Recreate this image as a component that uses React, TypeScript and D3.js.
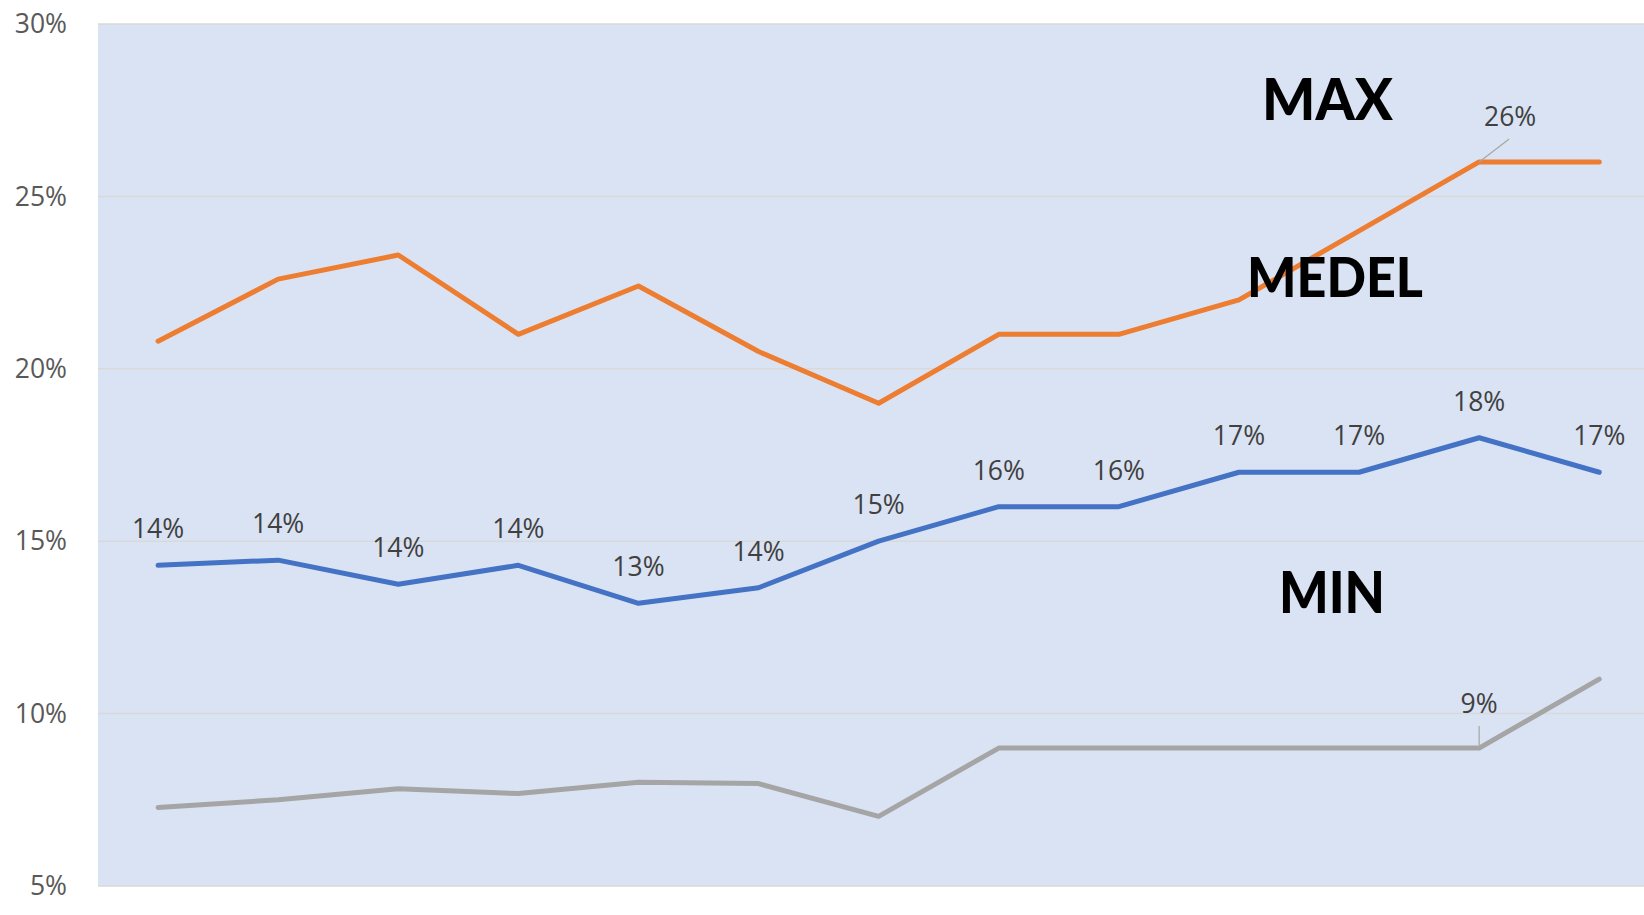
import React from 'react';
import * as d3 from 'd3';

// 13 periods, no visible category labels in the original
const categories = ['1', '2', '3', '4', '5', '6', '7', '8', '9', '10', '11', '12', '13'];
const maxValues = [20.8, 22.6, 23.3, 21.0, 22.4, 20.5, 19.0, 21.0, 21.0, 22.0, 24.0, 26.0, 26.0];
const medelValues = [14.3, 14.45, 13.75, 14.3, 13.2, 13.65, 15.0, 16.0, 16.0, 17.0, 17.0, 18.0, 17.0];
const minValues = [7.28, 7.5, 7.82, 7.68, 8.01, 7.97, 7.02, 9.0, 9.0, 9.0, 9.0, 9.0, 11.0];
const yTicks = [5, 10, 15, 20, 25, 30];

const W = 1644;
const H = 915;
const margin = { top: 24, left: 98, bottom: 29 };
const bandW = 120.1;

const App = () => {
  const x = d3.scaleBand()
    .domain(categories)
    .range([margin.left, margin.left + bandW * categories.length]);
  const cx = (i: number) => (x(categories[i]) as number) + x.bandwidth() / 2;

  const y = d3.scaleLinear()
    .domain([5, 30])
    .range([H - margin.bottom, margin.top]);

  const line = d3.line<number>()
    .x((_, i) => cx(i))
    .y(d => y(d));

  const fmt = (v: number) => `${Math.round(v)}%`;
  const labelFont = "'Open Sans', 'Liberation Sans', sans-serif";
  const bigFont = "Lato, 'DejaVu Sans', sans-serif";

  const series = [
    { name: 'max', values: maxValues, color: '#ed7d31' },
    { name: 'medel', values: medelValues, color: '#4472c4' },
    { name: 'min', values: minValues, color: '#a5a5a5' },
  ];

  const maxLabelIdx = 11;
  const minLabelIdx = 11;

  return (
    <svg width={W} height={H} style={{ position: 'absolute', left: 0, top: 0 }}>
      <rect x={margin.left} y={margin.top} width={W - margin.left} height={y(5) - y(30)} fill="#dae3f3" />

      {yTicks.map(t => (
        <g key={t}>
          <line x1={margin.left} x2={W} y1={y(t)} y2={y(t)} stroke="#d9d9d9" strokeWidth={1.5} />
          <text x={67} y={y(t)} dy="0.35em" textAnchor="end" fontFamily={labelFont} fontSize={26.5} fill="#595959">
            {t}%
          </text>
        </g>
      ))}

      {series.map(s => (
        <path key={s.name} d={line(s.values) || ''} fill="none" stroke={s.color}
          strokeWidth={5} strokeLinecap="round" strokeLinejoin="round" />
      ))}

      {medelValues.map((v, i) => (
        <text key={i} x={cx(i)} y={y(v) - 27} textAnchor="middle" fontFamily={labelFont} fontSize={26.5} fill="#404040">
          {fmt(v)}
        </text>
      ))}

      {/* MAX label with leader line */}
      <line x1={cx(maxLabelIdx)} y1={y(maxValues[maxLabelIdx])} x2={cx(maxLabelIdx) + 30} y2={y(maxValues[maxLabelIdx]) - 23}
        stroke="#a6a6a6" strokeWidth={1.2} />
      <text x={cx(maxLabelIdx) + 31} y={y(maxValues[maxLabelIdx]) - 36} textAnchor="middle" fontFamily={labelFont} fontSize={26.5} fill="#404040">
        {fmt(maxValues[maxLabelIdx])}
      </text>

      {/* MIN label with leader line */}
      <line x1={cx(minLabelIdx)} y1={y(minValues[minLabelIdx]) - 3} x2={cx(minLabelIdx)} y2={y(minValues[minLabelIdx]) - 22}
        stroke="#a6a6a6" strokeWidth={1.2} />
      <text x={cx(minLabelIdx)} y={y(minValues[minLabelIdx]) - 35} textAnchor="middle" fontFamily={labelFont} fontSize={26.5} fill="#404040">
        {fmt(minValues[minLabelIdx])}
      </text>

      <text x={1262} y={y(27.22)} fontFamily={bigFont} fontWeight={900} fontSize={58} fill="#000"
        textLength={131} lengthAdjust="spacingAndGlyphs">MAX</text>
      <text x={1247} y={y(22.08)} fontFamily={bigFont} fontWeight={900} fontSize={56} fill="#000"
        textLength={176} lengthAdjust="spacingAndGlyphs">MEDEL</text>
      <text x={1279} y={y(12.92)} fontFamily={bigFont} fontWeight={900} fontSize={57} fill="#000"
        textLength={106} lengthAdjust="spacingAndGlyphs">MIN</text>
    </svg>
  );
};

export default App;
